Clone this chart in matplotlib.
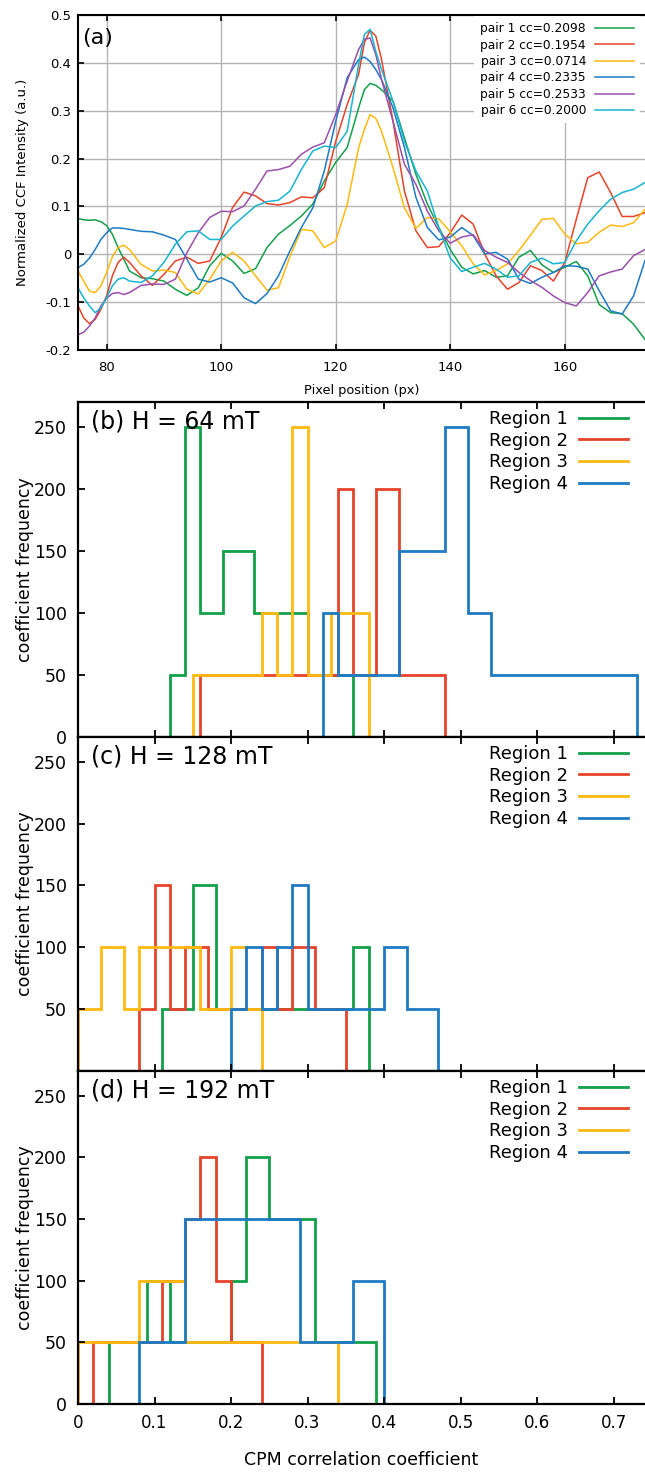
import matplotlib
matplotlib.use("Agg")
from matplotlib import pyplot as plt

plt.rcParams['font.family'] = ['DejaVu Sans']
plt.rcParams['axes.unicode_minus'] = False

# ---- panel (a): CCF curves ----
pixel_x = [75, 76, 77, 78, 79, 80, 81, 82, 83, 84, 86, 88, 90, 92, 94, 96, 98, 100, 102, 104,
           106, 108, 110, 112, 114, 116, 118, 120, 122, 124, 125, 126, 127, 128, 130, 132,
           134, 136, 138, 140, 142, 144, 146, 148, 150, 152, 154, 156, 158, 160, 162, 164,
           166, 168, 170, 172, 174]

pair1 = [0.075, 0.072, 0.071, 0.072, 0.068, 0.060, 0.042, 0.014, -0.010, -0.035, -0.049, -0.051,
         -0.056, -0.073, -0.086, -0.070, -0.024, 0.002, -0.014, -0.040, -0.030, 0.014, 0.042,
         0.060, 0.080, 0.105, 0.153, 0.192, 0.223, 0.306, 0.344, 0.357, 0.353, 0.344, 0.320,
         0.243, 0.167, 0.105, 0.056, 0.010, -0.027, -0.041, -0.034, -0.048, -0.045, -0.006,
         0.008, -0.022, -0.038, -0.027, -0.015, -0.045, -0.105, -0.122, -0.124, -0.146, -0.178]
pair2 = [-0.108, -0.133, -0.145, -0.136, -0.115, -0.087, -0.045, -0.017, -0.006, -0.017, -0.045,
         -0.065, -0.042, -0.014, -0.006, -0.019, -0.014, 0.035, 0.098, 0.130, 0.122, 0.106, 0.103,
         0.108, 0.120, 0.118, 0.139, 0.236, 0.313, 0.376, 0.442, 0.468, 0.456, 0.407, 0.278,
         0.132, 0.049, 0.014, 0.016, 0.045, 0.082, 0.063, 0.001, -0.045, -0.073, -0.059, -0.024,
         -0.034, -0.056, -0.017, 0.073, 0.160, 0.172, 0.129, 0.079, 0.079, 0.087]
pair3 = [-0.035, -0.056, -0.077, -0.080, -0.066, -0.038, -0.005, 0.014, 0.019, 0.010, -0.021,
         -0.035, -0.033, -0.038, -0.073, -0.083, -0.052, -0.014, 0.004, -0.014, -0.045, -0.075,
         -0.070, -0.005, 0.052, 0.049, 0.014, 0.028, 0.104, 0.223, 0.261, 0.292, 0.284, 0.257,
         0.181, 0.097, 0.054, 0.077, 0.074, 0.047, 0.018, -0.020, -0.043, -0.034, -0.020, 0.008,
         0.040, 0.073, 0.075, 0.042, 0.022, 0.025, 0.046, 0.061, 0.058, 0.066, 0.094]
pair4 = [-0.028, -0.021, -0.008, 0.010, 0.031, 0.045, 0.055, 0.055, 0.054, 0.052, 0.048, 0.047,
         0.040, 0.031, -0.010, -0.052, -0.058, -0.049, -0.060, -0.091, -0.103, -0.082, -0.045,
         0.007, 0.056, 0.097, 0.174, 0.278, 0.369, 0.407, 0.412, 0.403, 0.386, 0.365, 0.306,
         0.223, 0.119, 0.056, 0.030, 0.036, 0.056, 0.039, 0.001, 0.004, -0.010, -0.052, -0.061,
         -0.048, -0.038, -0.024, -0.025, -0.031, -0.076, -0.118, -0.125, -0.087, -0.013]
pair5 = [-0.168, -0.163, -0.150, -0.133, -0.108, -0.092, -0.082, -0.080, -0.084, -0.080, -0.065,
         -0.062, -0.063, -0.052, 0.003, 0.045, 0.077, 0.090, 0.089, 0.101, 0.136, 0.174, 0.177,
         0.184, 0.209, 0.224, 0.233, 0.292, 0.362, 0.428, 0.449, 0.452, 0.417, 0.365, 0.278,
         0.188, 0.146, 0.090, 0.049, 0.023, 0.036, 0.041, 0.008, -0.006, -0.017, -0.038, -0.055,
         -0.069, -0.087, -0.101, -0.108, -0.080, -0.045, -0.037, -0.031, -0.003, 0.010]
pair6 = [-0.070, -0.091, -0.108, -0.122, -0.112, -0.091, -0.066, -0.052, -0.049, -0.056, -0.059,
         -0.045, -0.017, 0.021, 0.047, 0.049, 0.031, 0.031, 0.059, 0.080, 0.101, 0.110, 0.113,
         0.132, 0.177, 0.216, 0.226, 0.223, 0.257, 0.397, 0.459, 0.470, 0.424, 0.386, 0.320,
         0.236, 0.174, 0.132, 0.056, -0.008, -0.036, -0.027, -0.019, -0.031, -0.048, -0.045,
         -0.017, -0.008, -0.020, -0.017, 0.028, 0.063, 0.091, 0.115, 0.129, 0.136, 0.150]
pair_labels = ['pair 1 cc=0.2098', 'pair 2 cc=0.1954', 'pair 3 cc=0.0714',
               'pair 4 cc=0.2335', 'pair 5 cc=0.2533', 'pair 6 cc=0.2000']

# ---- panels (b)-(d): histograms, bin edges + counts per region ----
b_edges = [[0.12, 0.14, 0.16, 0.19, 0.23, 0.30, 0.36],
           [0.16, 0.34, 0.36, 0.39, 0.42, 0.48],
           [0.15, 0.24, 0.26, 0.28, 0.30, 0.33, 0.38],
           [0.32, 0.34, 0.42, 0.48, 0.51, 0.54, 0.73]]
b_counts = [[50, 250, 100, 150, 100, 50],
            [50, 200, 50, 200, 50],
            [50, 100, 50, 250, 50, 100],
            [100, 50, 150, 250, 100, 50]]
c_edges = [[0.11, 0.15, 0.18, 0.36, 0.38],
           [0.08, 0.10, 0.12, 0.14, 0.17, 0.24, 0.26, 0.28, 0.31, 0.35],
           [0.0, 0.03, 0.06, 0.08, 0.16, 0.20, 0.22, 0.24],
           [0.20, 0.22, 0.24, 0.26, 0.28, 0.30, 0.40, 0.43, 0.47]]
c_counts = [[50, 150, 50, 100],
            [50, 150, 50, 100, 50, 100, 50, 100, 50],
            [50, 100, 50, 100, 50, 100, 50],
            [50, 100, 50, 100, 150, 50, 100, 50]]
d_edges = [[0.04, 0.09, 0.12, 0.20, 0.22, 0.25, 0.31, 0.39],
           [0.02, 0.11, 0.14, 0.16, 0.18, 0.20, 0.24],
           [0.0, 0.08, 0.14, 0.34],
           [0.08, 0.14, 0.29, 0.36, 0.40]]
d_counts = [[50, 100, 50, 100, 200, 150, 50],
            [50, 100, 150, 200, 100, 50],
            [50, 100, 50],
            [50, 150, 50, 100]]
region_labels = ['Region 1', 'Region 2', 'Region 3', 'Region 4']
panel_titles = ['(b) H = 64 mT', '(c) H = 128 mT', '(d) H = 192 mT']

pair_colors = ['#12a04b', '#e5432a', '#ffb90f', '#1f7ac4', '#9b4fab', '#17b5d0']
region_colors = pair_colors[:4]

W, H = 645.0, 1472.0
def box(left, top, right, bottom):
    return [left / W, 1 - bottom / H, (right - left) / W, (bottom - top) / H]

fig = plt.figure(figsize=(6.45, 14.72), dpi=100)

# panel (a)
ax = fig.add_axes(box(78, 15, 645, 350))
for ys, lab, col in zip([pair1, pair2, pair3, pair4, pair5, pair6], pair_labels, pair_colors):
    ax.plot(pixel_x, ys, color=col, lw=1.1, label=lab)
ax.set_xlim(75, 174)
ax.set_ylim(-0.2, 0.5)
ax.set_xticks([80, 100, 120, 140, 160])
ax.set_yticks([-0.2, -0.1, 0, 0.1, 0.2, 0.3, 0.4, 0.5])
ax.set_yticklabels(['-0.2', '-0.1', '0', '0.1', '0.2', '0.3', '0.4', '0.5'])
ax.grid(True, color='#b4b4b4', lw=1.0)
ax.set_axisbelow(True)
ax.tick_params(direction='in', top=True, labelsize=9.5, length=4, width=1.2)
ax.tick_params(axis='y', pad=5)
ax.tick_params(axis='x', pad=8)
for s in ax.spines.values():
    s.set_linewidth(1.5)
ax.spines['right'].set_visible(False)
ax.set_xlabel('Pixel position (px)', fontsize=9.3, labelpad=7)
ax.set_ylabel('Normalized CCF Intensity (a.u.)', fontsize=9.5, labelpad=12)
ax.text(0.007, 0.931, '(a)', transform=ax.transAxes, fontsize=16, va='center')
leg = ax.legend(loc='upper right', bbox_to_anchor=(0.991, 0.997), markerfirst=False,
                fontsize=8.8, handlelength=3.2, handletextpad=0.7, labelspacing=0.28,
                borderpad=0.5, borderaxespad=0, frameon=True, fancybox=False)
leg.get_frame().set_facecolor('white')
leg.get_frame().set_edgecolor('none')
leg.get_frame().set_alpha(1)

# panels (b), (c), (d)
tops = [402, 737, 1071]
bottoms = [737, 1071, 1404]
all_edges = [b_edges, c_edges, d_edges]
all_counts = [b_counts, c_counts, d_counts]
for i in range(3):
    ax = fig.add_axes(box(78, tops[i], 645, bottoms[i]))
    for e, c, lab, col in zip(all_edges[i], all_counts[i], region_labels, region_colors):
        ax.stairs(c, e, baseline=0, fill=False, color=col, lw=2.0, label=lab)
    ax.set_xlim(0, 0.741)
    ax.set_ylim(0, 270)
    ax.set_xticks([0, 0.1, 0.2, 0.3, 0.4, 0.5, 0.6, 0.7])
    if i == 1:
        ax.set_yticks([50, 100, 150, 200, 250])
    else:
        ax.set_yticks([0, 50, 100, 150, 200, 250])
    ax.tick_params(direction='in', top=True, labelsize=12.5, length=5, width=1.3)
    ax.tick_params(axis='y', pad=8)
    ax.tick_params(axis='x', pad=7, labelsize=12)
    if i < 2:
        ax.tick_params(axis='x', labelbottom=False)
    else:
        ax.set_xticklabels(['0', '0.1', '0.2', '0.3', '0.4', '0.5', '0.6', '0.7'])
        ax.set_xlabel('CPM correlation coefficient', fontsize=12.5, labelpad=14)
    for s in ax.spines.values():
        s.set_linewidth(1.6)
    ax.spines['right'].set_visible(False)
    ax.set_ylabel('coefficient frequency', fontsize=12.5, labelpad=0)
    ax.text(0.023, 1 - 20 / 335.0, panel_titles[i], transform=ax.transAxes,
            fontsize=17, va='center')
    ax.legend(loc='upper right', bbox_to_anchor=(0.970, 0.976), markerfirst=False,
              fontsize=13, handlelength=2.7, handletextpad=0.65, labelspacing=0.2,
              borderpad=0, borderaxespad=0, frameon=False)

fig.savefig('out.png', dpi=100)
